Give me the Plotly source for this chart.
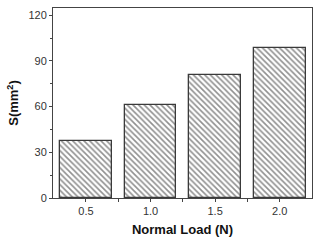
import plotly.graph_objects as go

loads = [0.5, 1.0, 1.5, 2.0]
load_labels = ["0.5", "1.0", "1.5", "2.0"]
areas = [37.5, 61, 80.8, 98.7]
y_ticks = [0, 30, 60, 90, 120]

fig = go.Figure()
fig.add_trace(go.Bar(
    x=loads, y=areas, width=0.4,
    marker=dict(
        color="white",
        line=dict(color="#3a3a3a", width=1.3),
        pattern=dict(shape="\\", size=4, solidity=0.4, fgcolor="#222222", bgcolor="white"),
    ),
))

axis_font = dict(family="Liberation Sans, Arial, sans-serif", size=11, color="#333333")
fig.update_layout(
    width=320, height=244,
    margin=dict(l=53, r=8, t=8, b=46),
    plot_bgcolor="white", paper_bgcolor="white",
    showlegend=False,
    bargap=0,
)
fig.update_xaxes(
    range=[0.245, 2.25],
    tickvals=loads, ticktext=load_labels,
    ticks="outside", ticklen=3, tickcolor="#444444",
    minor=dict(tickvals=[0.75, 1.25, 1.75], ticks="outside", ticklen=3, tickcolor="#444444"),
    showline=True, linecolor="#444444", linewidth=1, mirror=True,
    showgrid=False, zeroline=False,
    tickfont=axis_font,
    title=dict(text="<b>Normal Load (N)</b>", font=dict(family="Liberation Sans, Arial, sans-serif", size=13, color="#111111"), standoff=8),
)
fig.update_yaxes(
    range=[0, 124.7],
    tickvals=y_ticks,
    ticks="outside", ticklen=3, tickcolor="#444444",
    minor=dict(tickvals=[15, 45, 75, 105], ticks="outside", ticklen=2, tickcolor="#444444"),
    showline=True, linecolor="#444444", linewidth=1, mirror=True,
    showgrid=False, zeroline=False,
    tickfont=axis_font,
    title=dict(text="<b>S(mm<sup>2</sup>)</b>", font=dict(family="Liberation Sans, Arial, sans-serif", size=13, color="#111111"), standoff=6),
)

fig.write_html("out.html", config={"displayModeBar": False},
               post_script="document.body.style.margin='0';")
